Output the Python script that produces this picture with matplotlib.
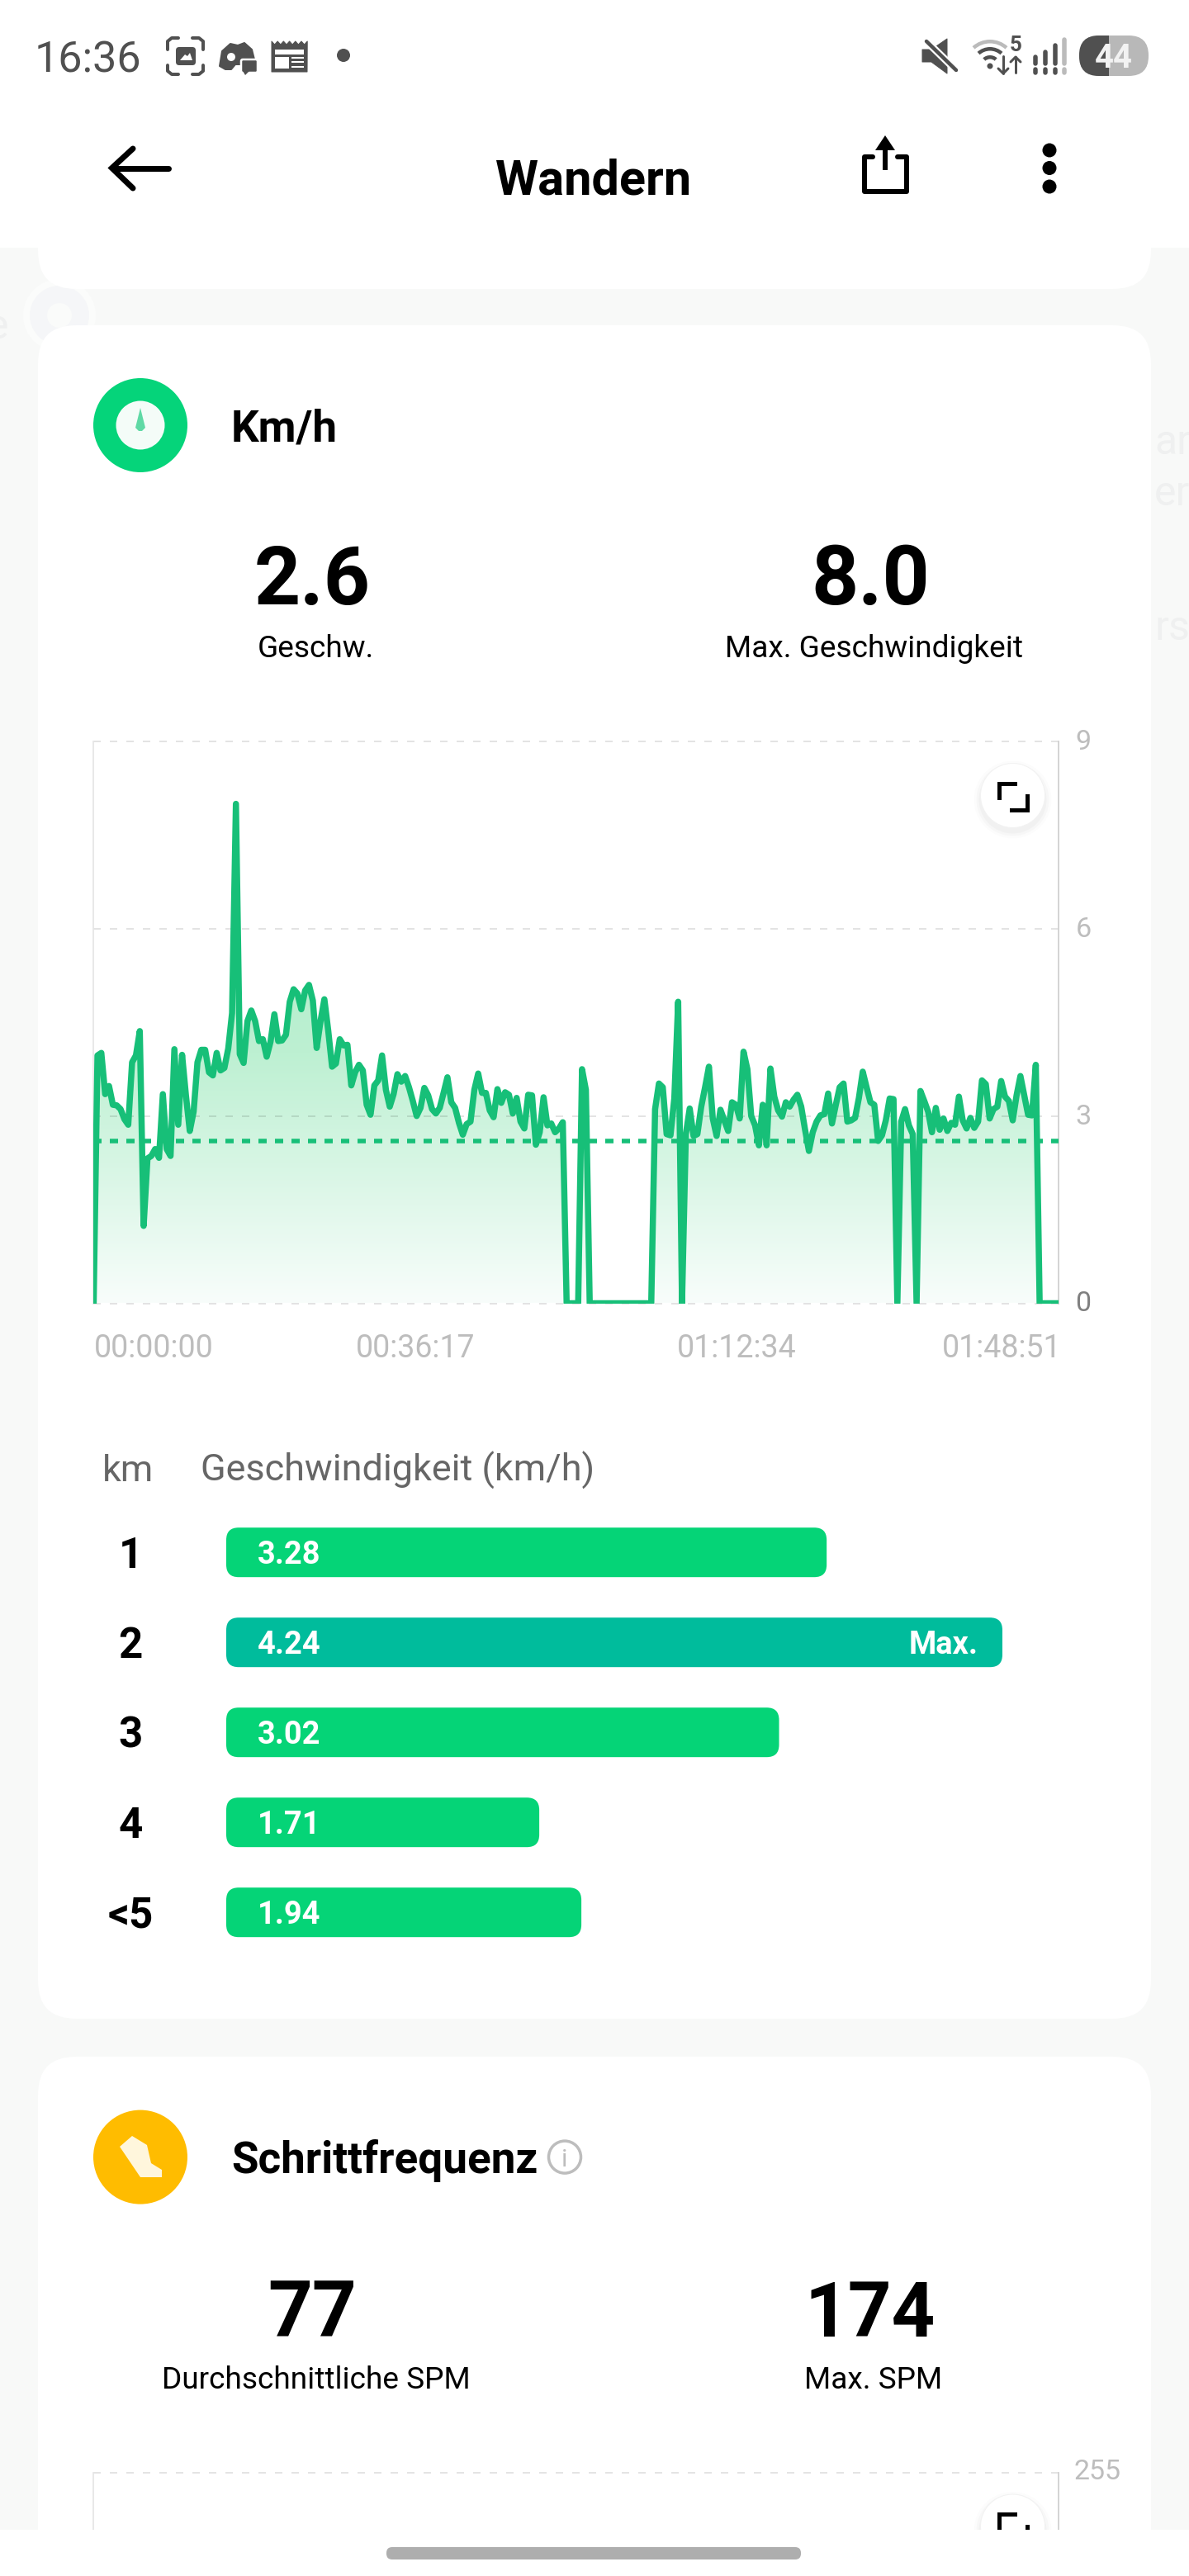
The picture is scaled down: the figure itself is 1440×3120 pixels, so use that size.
import matplotlib
matplotlib.use('Agg')
import matplotlib.pyplot as plt
import numpy as np
from matplotlib.colors import LinearSegmentedColormap
from matplotlib.patches import Circle, FancyBboxPatch, Polygon, Rectangle, Wedge

plt.rcParams['font.family'] = ['Roboto', 'DejaVu Sans']
plt.rcParams['lines.scale_dashes'] = False

# speed over the walk, one sample every ~26 s (km/h)
speed = [
    0, 3.97, 4.01, 3.35, 3.48, 3.18, 3.17, 3.11, 2.95, 2.86, 3.86, 3.97, 4.36, 1.24, 2.32, 2.36,
    2.47, 2.33, 3.35, 2.47, 2.36, 4.07, 2.86, 3.98, 3.33, 2.76, 3.07, 3.86, 4.06, 4.06, 3.70, 3.65,
    4.01, 3.73, 3.77, 4.08, 4.65, 8.0, 3.99, 3.85, 4.52, 4.69, 4.52, 4.20, 4.23, 3.95, 4.19, 4.63,
    4.20, 4.21, 4.30, 4.83, 5.03, 4.96, 4.71, 5.01, 5.10, 4.85, 4.09, 4.52, 4.87, 4.37, 3.79, 3.84,
    4.23, 4.13, 4.14, 3.49, 3.70, 3.82, 3.73, 3.18, 3.02, 3.49, 3.57, 3.97, 3.42, 3.15, 3.35, 3.67,
    3.55, 3.64, 3.46, 3.24, 3.00, 3.13, 3.45, 3.33, 3.11, 3.04, 3.13, 3.37, 3.62, 3.22, 3.13, 2.89,
    2.70, 2.87, 2.91, 3.42, 3.68, 3.37, 3.37, 3.09, 2.98, 3.43, 3.21, 3.38, 3.34, 3.04, 3.29, 2.91,
    2.80, 3.34, 3.33, 2.54, 2.74, 3.30, 2.85, 2.88, 2.74, 2.80, 2.90, 0, 0, 0, 0, 3.75,
    3.42, 0, 0, 0, 0, 0, 0, 0, 0, 0, 0, 0, 0, 0, 0, 0,
    0, 0, 3.11, 3.52, 3.46, 2.71, 2.69, 3.28, 4.83, 0, 2.71, 3.12, 2.68, 2.71, 3.15, 3.46,
    3.79, 2.96, 2.68, 3.10, 2.93, 2.76, 3.22, 3.18, 2.96, 4.03, 3.75, 3.00, 2.85, 2.53, 3.18, 2.53,
    3.76, 3.31, 3.09, 2.99, 3.22, 3.15, 3.26, 3.34, 3.15, 2.78, 2.44, 2.74, 2.91, 3.01, 3.03, 3.36,
    2.88, 3.18, 3.46, 3.52, 2.91, 2.93, 2.97, 3.29, 3.71, 3.46, 3.22, 3.18, 2.60, 2.69, 2.93, 3.28,
    3.27, 0, 2.91, 3.11, 2.85, 2.71, 0, 3.40, 3.24, 3.07, 2.74, 3.13, 2.78, 2.96, 2.76, 2.89,
    2.86, 3.31, 2.93, 2.80, 2.97, 2.81, 2.91, 3.57, 3.51, 2.96, 3.11, 3.15, 3.56, 3.31, 3.24, 2.93,
    3.33, 3.64, 3.33, 3.02, 3.01, 3.82, 0, 0, 0, 0, 0, 0,
]
total_seconds = 6531
avg_speed = 2.6
max_speed = 8.0
speed_ticks = [0, 3, 6, 9]
time_ticks = [0, 2177, 4354, 6531]
time_labels = ['00:00:00', '00:36:17', '01:12:34', '01:48:51']

km_labels = ['1', '2', '3', '4', '<5']
km_speed = [3.28, 4.24, 3.02, 1.71, 1.94]

avg_spm = 77
max_spm = 174
spm_top = 255

GREEN = '#17BF78'
BAR = '#05D477'
BAR_MAX = '#00BC9C'
GREY = '#BDBDBD'
DARK = '#505050'
W, H = 1440, 3120


def pt(px):
    return px * 0.72


fig = plt.figure(figsize=(14.4, 31.2), dpi=100, facecolor='#F8F9F8')

bg = fig.add_axes([0, 0, 1, 1], zorder=0)
bg.set_xlim(0, W)
bg.set_ylim(H, 0)
bg.axis('off')

fg = fig.add_axes([0, 0, 1, 1], zorder=5)
fg.set_xlim(0, W)
fg.set_ylim(H, 0)
fg.axis('off')
fg.patch.set_alpha(0)


def card(x0, y0, x1, y1, r=46):
    bg.add_patch(FancyBboxPatch((x0, y0), x1 - x0, y1 - y0, boxstyle='round,pad=0,rounding_size=%d' % r,
                                fc='white', ec='none'))


def label(ax, x, y, s, px, color='black', ha='center', va='baseline', weight='normal', z=6):
    return ax.text(x, y, s, fontsize=pt(px), color=color, ha=ha, va=va, fontweight=weight, zorder=z)


def stroke(pts, px, color=DARK, cap='round', join='round', a=None):
    a = a or bg
    xs, ys = zip(*pts)
    a.plot(xs, ys, color=color, lw=pt(px), solid_capstyle=cap, solid_joinstyle=join)


# faint map behind the cards
for x, y, s in [(1398, 550, 'ar'), (1398, 612, 'er'), (1398, 775, 'rs'), (-16, 410, 'e')]:
    label(bg, x, y, s, 50, color='#EFF0F0', ha='left')
bg.add_patch(Circle((72, 382), 44, fc='#FBFCFB', ec='none'))
bg.add_patch(Circle((72, 382), 36, fc='#F5F6F8', ec='none'))
bg.add_patch(Circle((72, 382), 15, fc='#FAFBFA', ec='none'))

# cards and header
card(46, 150, 1394, 350)
card(46, 394, 1394, 2445)
card(46, 2491, 1394, 3300)
bg.add_patch(Rectangle((0, 0), W, 300, fc='white', ec='none'))

# status bar, left side
label(bg, 42, 87, '16:36', 52, color=DARK, ha='left')
stroke([(203, 60), (203, 50), (208, 46), (216, 46)], 4)
stroke([(233, 46), (241, 46), (246, 50), (246, 60)], 4)
stroke([(203, 79), (203, 86), (208, 90), (216, 90)], 4)
stroke([(233, 90), (241, 90), (246, 86), (246, 79)], 4)
bg.add_patch(FancyBboxPatch((213, 57), 24, 22, boxstyle='round,pad=0,rounding_size=4', fc=DARK, ec='none'))
bg.add_patch(Polygon([[218, 73], [224, 66], [227, 68], [230, 64], [233, 73]], fc='white', ec='none'))
# chat game icon
bg.add_patch(Polygon([[266, 80], [269, 62], [279, 53], [288, 55], [296, 52], [305, 60], [308, 72], [300, 78],
                      [285, 78], [280, 84], [273, 84]], fc=DARK, ec=DARK, lw=pt(2), joinstyle='round'))
bg.add_patch(Circle((280, 69), 5, fc='white', ec='none'))
bg.add_patch(FancyBboxPatch((292, 72), 20, 16, boxstyle='round,pad=0,rounding_size=2', fc=DARK, ec='white', lw=pt(2.5)))
bg.add_patch(Polygon([[294, 86], [302, 86], [297, 91]], fc=DARK, ec='none'))
# newspaper icon
serr_x = [329 + i * 3.6 for i in range(13)]
top_edge = [[x, 50 if i % 2 == 0 else 54] for i, x in enumerate(serr_x)]
bg.add_patch(Polygon(top_edge + [[372, 87], [329, 87]], fc=DARK, ec=DARK, lw=pt(1), joinstyle='round'))
bg.add_patch(Rectangle((333, 60), 35, 6, fc='white', ec='none'))
bg.add_patch(Rectangle((333, 68.5), 17, 14.5, fc='white', ec='none'))
for y in [69, 74, 79.5]:
    bg.add_patch(Rectangle((353, y), 15, 2, fc='white', ec='none'))
bg.add_patch(Circle((416, 67), 8, fc=DARK, ec='none'))

# status bar, right side
bg.add_patch(Polygon([[1117, 60], [1128, 60], [1147, 47], [1147, 89], [1128, 75], [1117, 75]], fc=DARK, ec=DARK,
                     lw=pt(1), joinstyle='round'))
stroke([(1122, 50), (1158, 85)], 9, color='white', cap='butt')
stroke([(1122, 50), (1158, 85)], 4.5)
for r, c in [(32, '#BBBBBB'), (23, DARK), (13, DARK)]:
    bg.add_patch(Wedge((1199, 80), r, 228, 312, width=4.5, fc=c, ec='none'))
bg.add_patch(Circle((1199, 80), 3.5, fc=DARK, ec='none'))
label(bg, 1230, 62, '5', 26, color=DARK, weight='bold')
stroke([(1215, 68), (1215, 89)], 3)
stroke([(1209, 83), (1215, 89), (1221, 83)], 3)
stroke([(1230, 69), (1230, 88)], 3)
stroke([(1224, 75), (1230, 69), (1236, 75)], 3)
for x, top, c in [(1254, 69, DARK), (1266, 63, DARK), (1278, 55, DARK), (1289, 48, '#BBBBBB')]:
    stroke([(x, top), (x, 77)], 5.5, color=c)
    stroke([(x, 84), (x, 88)], 5.5, color=c)
bg.add_patch(FancyBboxPatch((1307, 43), 84, 49, boxstyle='round,pad=0,rounding_size=24', fc='#B8B8B8', ec='none'))
left_half = FancyBboxPatch((1307, 43), 84, 49, boxstyle='round,pad=0,rounding_size=24', fc=DARK, ec='none')
bg.add_patch(left_half)
left_half.set_clip_path(Rectangle((1300, 40), 43, 56, transform=bg.transData))
label(bg, 1349, 82, '44', 40, color='#F2F2F2', weight='bold')

# header
label(bg, 719, 236, 'Wandern', 59.5, weight='bold')
stroke([(204, 203.5), (137, 203.5)], 7, color='black')
stroke([(161, 180), (135.5, 203.5), (161, 228)], 7, color='black', join='miter')
stroke([(1057, 190), (1047, 190), (1047, 232), (1098, 232), (1098, 190), (1087, 190)], 6, color='black')
stroke([(1072, 172), (1072, 206)], 6, color='black', cap='butt')
bg.add_patch(Polygon([[1072, 164], [1060, 182], [1084, 182]], fc='black', ec='none'))
for y in [182, 203.5, 226]:
    bg.add_patch(Circle((1271, y), 8.5, fc='black', ec='none'))

# speed card head
bg.add_patch(Circle((170, 515), 57, fc='#05D47A', ec='none'))
bg.add_patch(Circle((170, 515), 29.5, fc='#F4FCF8', ec='none'))
bg.add_patch(Polygon([[170, 494], [176, 518], [172, 522], [168, 522], [164, 518]], fc='#5FD9A5', ec='none'))
label(bg, 280, 535, 'Km/h', 53, ha='left', weight='bold')

label(bg, 378, 732, '%.1f' % avg_speed, 98, weight='bold')
label(bg, 1054, 732, '%.1f' % max_speed, 100, weight='bold')
label(bg, 382, 796, 'Geschw.', 37)
label(bg, 1058, 796, 'Max. Geschwindigkeit', 37)

# speed line chart
x0, x1, y_top, y_bot = 113.4, 1282.4, 898, 1578.5
ax = fig.add_axes([x0 / W, 1 - y_bot / H, (x1 - x0) / W, (y_bot - y_top) / H], zorder=2)
ax.patch.set_alpha(0)
t = np.linspace(0, total_seconds, len(speed))

cmap = LinearSegmentedColormap.from_list('speed_fill', ['#F8FDFB', '#BDF0D2', '#A5EBC4'])
poly = ax.fill_between(t, 0, speed, color='none', lw=0)
im = ax.imshow(np.linspace(1, 0, 256).reshape(-1, 1), cmap=cmap, aspect='auto', extent=[0, total_seconds, 0, 8.0],
               vmin=0, vmax=1, zorder=1)
im.set_clip_path(poly.get_paths()[0], transform=ax.transData)
ax.set_xlim(0, total_seconds)
ax.set_ylim(0, 9)

ax.set_yticks(speed_ticks)
ax.set_xticks(time_ticks)
ax.tick_params(length=0, labelbottom=False, labelleft=False)
for v in speed_ticks:
    ax.axhline(v, color='black', alpha=0.11, lw=pt(2), linestyle=(0, (pt(9), pt(11))), zorder=2, clip_on=False)
for side in ['top', 'bottom']:
    ax.spines[side].set_visible(False)
ax.spines['left'].set_color('#E6E6E6')
ax.spines['right'].set_color('#D0D0D0')
ax.spines['left'].set_linewidth(pt(1.8))
ax.spines['right'].set_linewidth(pt(1.8))

ax.axhline(avg_speed, color=GREEN, lw=pt(5.5), linestyle=(0, (pt(10), pt(10))), zorder=3)
ax.plot(t, speed, color=GREEN, lw=pt(7.5), solid_joinstyle='round', solid_capstyle='round', zorder=4)

# tick labels sit outside the axes, as in the app
for v in speed_ticks:
    c = '#808080' if v == 0 else GREY
    ax.annotate(str(v), (1, v), xycoords=ax.get_yaxis_transform(), xytext=(pt(20), -pt(1)), textcoords='offset points',
                fontsize=pt(34), color=c, ha='left', va='center')
for tt, s, ha, dx in zip(time_ticks, time_labels, ['left', 'center', 'center', 'right'], [0, 0, 0, 3]):
    ax.annotate(s, (tt, 0), xycoords=ax.get_xaxis_transform(), xytext=(pt(dx), -pt(65)), textcoords='offset points',
                fontsize=pt(37.5), color=GREY, ha=ha, va='baseline')


def expand_button(a, cx, cy):
    for r, al in [(47, 0.012), (44, 0.018), (41, 0.025)]:
        a.add_patch(Circle((cx, cy + 5), r, fc='black', alpha=al, ec='none', zorder=7))
    a.add_patch(Circle((cx, cy), 39, fc='white', ec='#F2F2F2', lw=pt(1), zorder=7))
    a.plot([cx - 17, cx - 17, cx + 2], [cy + 2, cy - 15, cy - 15], color='black', lw=pt(5), zorder=8,
           solid_joinstyle='miter')
    a.plot([cx - 2, cx + 17, cx + 17], [cy + 17, cy + 17, cy], color='black', lw=pt(5), zorder=8,
           solid_joinstyle='miter')


expand_button(fg, 1226.5, 963.5)

# per km bars
label(bg, 155, 1794, 'km', 45, color='#666666')
label(bg, 243, 1794, 'Geschwindigkeit (km/h)', 45, color='#666666', ha='left')

row_h = 109
scale = (1214 - 274) / max(km_speed)
bx = fig.add_axes([274 / W, 1 - (1880.2 + 5 * row_h - row_h / 2) / H, 940 / W, 5 * row_h / H], zorder=2)
bx.set_xlim(0, max(km_speed))
bx.set_ylim(4.5, -0.5)
bx.axis('off')
ypos = np.arange(len(km_speed))
bar_h = 60 / row_h
bars = bx.barh(ypos, km_speed, height=bar_h, color='none')
for b, v in zip(bars, km_speed):
    c = BAR_MAX if v == max(km_speed) else BAR
    bx.add_patch(FancyBboxPatch(b.get_xy(), b.get_width(), b.get_height(),
                                boxstyle='round,pad=0,rounding_size=%f' % (15 / scale),
                                mutation_aspect=scale / row_h, fc=c, ec='none'))
for i, (name, v) in enumerate(zip(km_labels, km_speed)):
    yb = 1880.2 + i * row_h
    label(bg, 158, yb + 18.5, name, 51, weight='bold')
    label(fg, 312, yb + 13.5, '%.2f' % v, 38, color='white', ha='left', weight='bold')
    if v == max(km_speed):
        label(fg, 1185, yb + 13.5, 'Max.', 38, color='white', ha='right', weight='bold')

# cadence card
bg.add_patch(Circle((170, 2612.6), 57, fc='#FFBC00', ec='none'))
bg.add_patch(Polygon([[145, 2600], [160, 2587], [178, 2598], [183, 2620], [196, 2628], [196, 2637], [170, 2637]],
                     fc='#FFF6DC', ec='none'))
label(bg, 280, 2632, 'Schrittfrequenz', 53, ha='left', weight='bold')
bg.add_patch(Circle((684, 2612.6), 19.5, fc='none', ec=GREY, lw=pt(3.5)))
label(bg, 684, 2624, 'i', 30, color=GREY)
label(bg, 378, 2830, str(avg_spm), 94, weight='bold')
label(bg, 1054, 2830, str(max_spm), 92, weight='bold')
label(bg, 383, 2893, 'Durchschnittliche SPM', 37)
label(bg, 1058, 2893, 'Max. SPM', 37)

bg.plot([113, 1282], [2995, 2995], color='#E4E4E4', lw=pt(2), linestyle=(0, (pt(9), pt(11))))
bg.plot([113, 113], [2995, 3070], color='#E6E6E6', lw=pt(1.8))
bg.plot([1282, 1282], [2995, 3070], color='#D0D0D0', lw=pt(1.8))
label(bg, 1301, 3003, str(spm_top), 34, color=GREY, ha='left')
expand_button(fg, 1226.5, 3060)

# bottom nav
fg.add_patch(Rectangle((0, 3064), W, 56, fc='white', ec='none', zorder=9))
fg.add_patch(FancyBboxPatch((468, 3085), 502, 15, boxstyle='round,pad=0,rounding_size=7', fc='#AEAEAE', ec='none',
                            zorder=10))

fig.savefig('out.png', dpi=100, facecolor=fig.get_facecolor())
